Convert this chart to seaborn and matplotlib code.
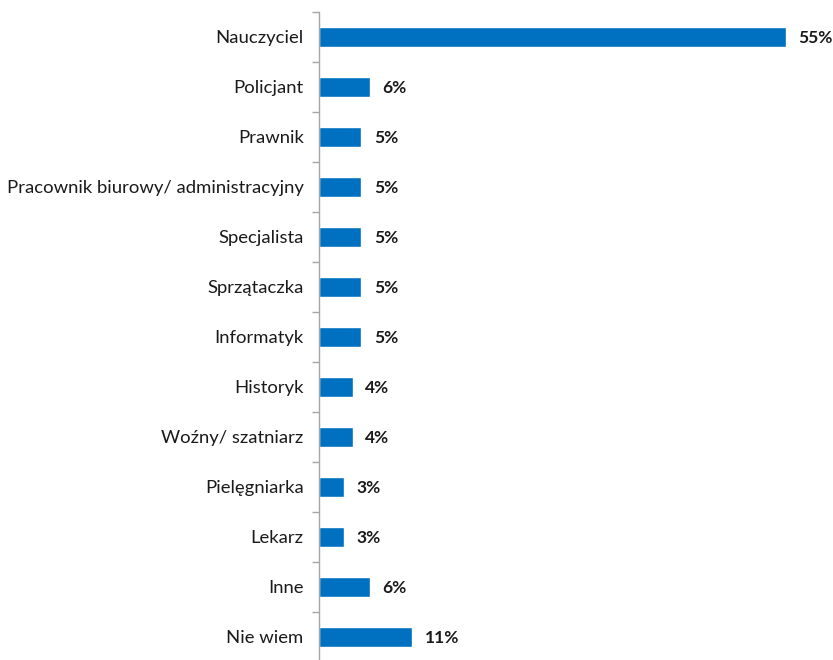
import matplotlib
matplotlib.use("Agg")
import matplotlib.pyplot as plt
import seaborn as sns
import pandas as pd
import numpy as np

categories = [
    "Nauczyciel", "Policjant", "Prawnik", "Pracownik biurowy/ administracyjny",
    "Specjalista", "Sprzątaczka", "Informatyk", "Historyk", "Woźny/ szatniarz",
    "Pielęgniarka", "Lekarz", "Inne", "Nie wiem",
]
values = [55, 6, 5, 5, 5, 5, 5, 4, 4, 3, 3, 6, 11]

df = pd.DataFrame({"category": categories, "value": values})

sns.set_style("white")
plt.rcParams["font.family"] = ["Lato", "DejaVu Sans"]

fig = plt.figure(figsize=(8.33, 6.6), dpi=100)
ax = fig.add_axes([319 / 833, 1 - 662 / 660, 514 / 833, 650 / 660])

sns.barplot(data=df, x="value", y="category", orient="h", color="#0070C0",
            width=0.4, saturation=1, ax=ax)

ax.set_xlim(0, 60.54)
ax.set_ylim(len(categories) - 0.5, -0.5)
ax.set_xlabel("")
ax.set_ylabel("")
ax.set_xticks([])

for s in ["top", "right", "bottom"]:
    ax.spines[s].set_visible(False)
ax.spines["left"].set_color("#A6A6A6")
ax.spines["left"].set_linewidth(1.0)

ax.set_yticks(np.arange(len(categories)))
ax.set_yticklabels(categories, fontsize=13.3, color="#1a1a1a")
ax.tick_params(axis="y", which="major", left=False, length=0, pad=11)
ax.set_yticks(np.arange(len(categories) + 1) - 0.5, minor=True)
ax.tick_params(axis="y", which="minor", left=True, length=5, width=1,
               color="#A6A6A6", direction="out")

for i, v in enumerate(values):
    ax.text(v + 1.45, i + 0.03, f"{v}%", va="center", ha="left",
            fontsize=12.5, fontweight="bold", color="#1a1a1a")

fig.savefig("out.png", dpi=100)
